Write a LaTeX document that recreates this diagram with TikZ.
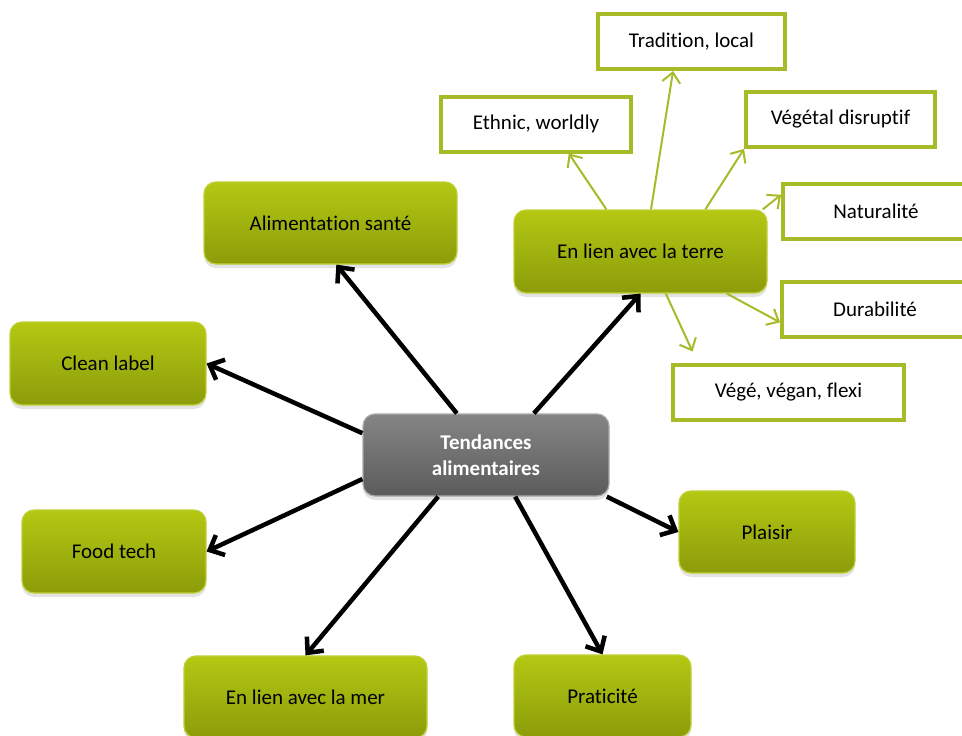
\documentclass[tikz,border=0pt]{standalone}
\usepackage{fontspec}
\setmainfont{Carlito}[Ligatures=NoCommon]
\usetikzlibrary{arrows.meta, shadows}
\definecolor{leaftop}{HTML}{B4C813}
\definecolor{leafbot}{HTML}{8C9C0A}
\definecolor{leafline}{HTML}{A7BA28}
\definecolor{slatetop}{HTML}{858585}
\definecolor{slatebot}{HTML}{5B5B5B}

\begin{document}
\begin{tikzpicture}[x=1pt, y=-1pt,
    every node/.style={font=\fontsize{21}{26}\selectfont, align=center, inner sep=0pt},
    trend/.style={rounded corners=12pt, top color=leaftop, bottom color=leafbot, draw=leaftop!85!white, line width=1.2pt,
        drop shadow={opacity=0.22, shadow xshift=0pt, shadow yshift=-4pt}},
    core/.style={trend, top color=slatetop, bottom color=slatebot, draw=slatetop!70!white, text=white, font=\fontsize{21}{26}\selectfont\bfseries},
    subtrend/.style={draw=leafline, line width=4pt, fill=white, minimum height=55pt},
    mainarrow/.style={-{Straight Barb[length=12pt,width=22pt]}, line width=4.5pt, black},
    subarrow/.style={-{Straight Barb[length=10pt,width=18pt]}, line width=2pt, leafline}]
    \clip (0,0) rectangle (962,736);
    \fill[white] (0,0) rectangle (962,736);

    % centre and main themes
    \node[core, minimum width=246pt, minimum height=82pt] (tend) at (486,455) {Tendances\\alimentaires};
    \node[trend, minimum width=253pt, minimum height=82pt] (sante) at (330.5,223) {Alimentation santé};
    \node[trend, minimum width=196pt, minimum height=83pt] (clean) at (108,363.5) {Clean label};
    \node[trend, minimum width=184pt, minimum height=83pt] (foodtech) at (114,551.5) {Food tech};
    \node[trend, minimum width=243pt, minimum height=82pt] (mer) at (305.5,697) {En lien avec la mer};
    \node[trend, minimum width=177pt, minimum height=82pt] (prat) at (602.5,696) {Praticité};
    \node[trend, minimum width=176pt, minimum height=82pt] (plaisir) at (767,532) {Plaisir};
    \node[trend, minimum width=253pt, minimum height=83pt] (terre) at (640.5,251.5) {En lien avec la terre};

    % sub themes of terre
    \node[subtrend, minimum width=187pt] (tradition) at (691.5,41.5) {Tradition, local};
    \node[subtrend, minimum width=190pt] (ethnic) at (536,124) {Ethnic, worldly};
    \node[subtrend, minimum width=189pt] (vegetal) at (840.5,119.5) {Végétal disruptif};
    \node[subtrend, minimum width=186pt] (natur) at (876,211.5) {Naturalité};
    \node[subtrend, minimum width=186pt] (durab) at (875,309) {Durabilité};
    \node[subtrend, minimum width=231pt] (vege) at (788.5,392.5) {Végé, végan, flexi};

    \draw[mainarrow] (tend.125) -- (sante.278);
    \draw[mainarrow] (tend.170) -- (clean.east);
    \draw[mainarrow] (tend.191) -- (foodtech.east);
    \draw[mainarrow] (tend.221) -- (mer.north);
    \draw[mainarrow] (tend.305) -- (prat.north);
    \draw[mainarrow] (tend.341) -- (plaisir.west);
    \draw[mainarrow] (tend.41) -- (terre.south);

    \draw[subarrow] (terre.129) -- (ethnic.318);
    \draw[subarrow] (terre.76) -- (tradition.238);
    \draw[subarrow] (terre.33) -- (vegetal.south west);
    \draw[subarrow] (terre.19) -- (natur.170);
    \draw[subarrow] (terre.334) -- (durab.188);
    \draw[subarrow] (terre.301) -- ([shift={(-96,-41)}]vege.center);
\end{tikzpicture}
\end{document}
